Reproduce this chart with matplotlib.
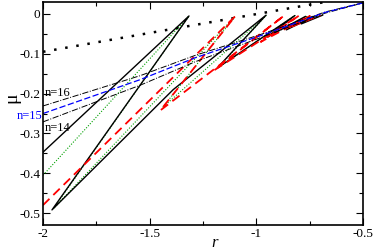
import matplotlib
matplotlib.use("Agg")
import matplotlib.pyplot as plt
from matplotlib.ticker import MultipleLocator

plt.rcParams['font.family'] = ['Liberation Serif', 'DejaVu Serif']

# straight dotted reference line
dot_r = [-2.0, -0.5]
dot_mu = [-0.095, 0.047]

# n=15 (blue) and the n=16 / n=14 dash-dot curves
line_r = [-2.0, -1.545, -1.287, -0.983, -0.678, -0.5]
mu_n15 = [-0.250, -0.165, -0.110, -0.055, 0.004, 0.028]
mu_n16 = [-0.231, -0.155, -0.104, -0.052, 0.005, 0.028]
mu_n14 = [-0.271, -0.179, -0.120, -0.060, 0.002, 0.028]

# zigzag (swallowtail) branches
black_r = [-2.0, -1.316, -1.958, -1.39, -0.955, -1.184, -0.82, -0.95, -0.77, -0.86, -0.73, -0.79, -0.69]
black_mu = [-0.347, -0.005, -0.492, -0.19, -0.003, -0.136, -0.004, -0.058, -0.006, -0.04, -0.006, -0.025, -0.003]

green_r = [-2.0, -1.316, -1.95, -1.1, -1.44, -0.955, -1.18, -0.82, -0.94, -0.76, -0.83, -0.71]
green_mu = [-0.405, -0.005, -0.488, -0.006, -0.235, -0.004, -0.135, -0.004, -0.055, -0.005, -0.03, -0.003]

red_r = [-2.0, -1.1, -1.45, -0.87, -1.2, -0.80, -0.98, -0.75, -0.85, -0.70]
red_mu = [-0.48, -0.006, -0.242, -0.004, -0.142, -0.004, -0.07, -0.005, -0.035, -0.003]

fig = plt.figure(figsize=(3.74, 2.52), dpi=100)
ax = fig.add_axes([0.115, 0.107, 0.856, 0.885])

ax.plot(dot_r, dot_mu, color='black', lw=1.8, linestyle=(0, (1, 3.5)))
ax.plot(green_r, green_mu, color='#00a000', lw=0.8, linestyle=(0, (1, 1.5)))
ax.plot(black_r, black_mu, color='black', lw=1.0)
ax.plot(red_r, red_mu, color='red', lw=1.3, linestyle=(0, (5, 3)))
ax.plot(line_r, mu_n16, color='black', lw=0.7, linestyle='-.')
ax.plot(line_r, mu_n14, color='black', lw=0.7, linestyle='-.')
ax.plot(line_r, mu_n15, color='blue', lw=0.9, linestyle=(0, (5, 2)))

ax.text(-1.99, -0.205, 'n=16', fontsize=9, color='black')
ax.text(-2.125, -0.265, 'n=15', fontsize=9, color='blue', clip_on=False)
ax.text(-1.99, -0.295, 'n=14', fontsize=9, color='black')

ax.set_xlim(-2, -0.5)
ax.set_ylim(-0.53, 0.03)
ax.xaxis.set_minor_locator(MultipleLocator(0.25))
ax.yaxis.set_minor_locator(MultipleLocator(0.05))
ax.set_xticks([-2, -1.5, -1, -0.5])
ax.set_xticklabels(['-2', '-1.5', '-1', '-0.5'])
ax.set_yticks([0, -0.1, -0.2, -0.3, -0.4, -0.5])
ax.set_yticklabels(['0', '-0.1', '-0.2', '-0.3', '-0.4', '-0.5'])
ax.tick_params(which='both', direction='in', top=True, right=True, labelsize=9.5, width=0.8, pad=2)
ax.tick_params(which='major', length=5)
ax.tick_params(which='minor', length=3)
for s in ax.spines.values():
    s.set_linewidth(1.2)

ax.set_xlabel('r', fontsize=12, style='italic')
ax.xaxis.set_label_coords(0.537, -0.045)
ax.set_ylabel('μ', fontsize=14, rotation=90)
ax.yaxis.set_label_coords(-0.07, 0.57)

fig.savefig('out.png', dpi=100)
